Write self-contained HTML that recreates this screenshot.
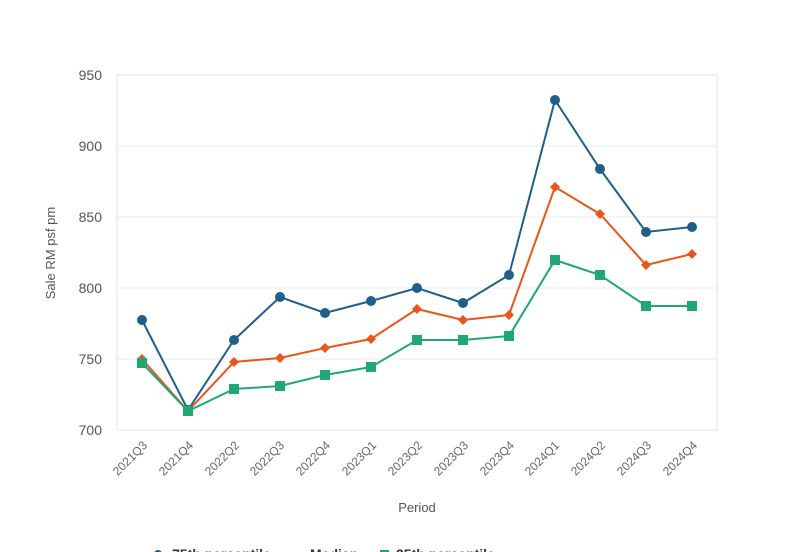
<!DOCTYPE html>
<html><head><style>body{margin:0;background:#fff}svg{display:block;font-family:"Liberation Sans",sans-serif}</style></head><body>
<svg width="800" height="552" viewBox="0 0 800 552">
<g stroke="#e6eef5" stroke-width="1">
<line x1="117" y1="75" x2="717" y2="75"/><line x1="117" y1="146" x2="717" y2="146"/><line x1="117" y1="217" x2="717" y2="217"/><line x1="117" y1="288" x2="717" y2="288"/><line x1="117" y1="359" x2="717" y2="359"/>
</g>
<rect x="117" y="75" width="600" height="355" fill="none" stroke="#dde6ee"/>
<g font-size="14" fill="#555" text-anchor="end">
<text x="102" y="80">950</text><text x="102" y="151">900</text><text x="102" y="222">850</text><text x="102" y="293">800</text><text x="102" y="364">750</text><text x="102" y="435">700</text>
</g>
<text transform="translate(55,253) rotate(-90)" font-size="13" fill="#555" text-anchor="middle">Sale RM psf pm</text>
<g font-size="12" fill="#666" text-anchor="end">
<text transform="translate(148,446) rotate(-45)">2021Q3</text>
<text transform="translate(194,446) rotate(-45)">2021Q4</text>
<text transform="translate(240,446) rotate(-45)">2022Q2</text>
<text transform="translate(285,446) rotate(-45)">2022Q3</text>
<text transform="translate(331,446) rotate(-45)">2022Q4</text>
<text transform="translate(377,446) rotate(-45)">2023Q1</text>
<text transform="translate(423,446) rotate(-45)">2023Q2</text>
<text transform="translate(469,446) rotate(-45)">2023Q3</text>
<text transform="translate(515,446) rotate(-45)">2023Q4</text>
<text transform="translate(560,446) rotate(-45)">2024Q1</text>
<text transform="translate(606,446) rotate(-45)">2024Q2</text>
<text transform="translate(652,446) rotate(-45)">2024Q3</text>
<text transform="translate(698,446) rotate(-45)">2024Q4</text>
</g>
<text x="417" y="512" font-size="13" fill="#555" text-anchor="middle">Period</text>
<polyline fill="none" stroke="#1f5f8b" stroke-width="2" points="142,320 188,410 234,340 280,297 325,313 371,301 417,288 463,303 509,275 555,100 600,169 646,232 692,227"/>
<polyline fill="none" stroke="#e8561c" stroke-width="2" points="142,359 188,411 234,362 280,358 325,348 371,339 417,309 463,320 509,315 555,187 600,214 646,265 692,254"/>
<polyline fill="none" stroke="#1fa874" stroke-width="2" points="142,363 188,411 234,389 280,386 325,375 371,367 417,340 463,340 509,336 555,260 600,275 646,306 692,306"/>
<g fill="#1f5f8b"><circle cx="142" cy="320" r="5"/><circle cx="188" cy="410" r="5"/><circle cx="234" cy="340" r="5"/><circle cx="280" cy="297" r="5"/><circle cx="325" cy="313" r="5"/><circle cx="371" cy="301" r="5"/><circle cx="417" cy="288" r="5"/><circle cx="463" cy="303" r="5"/><circle cx="509" cy="275" r="5"/><circle cx="555" cy="100" r="5"/><circle cx="600" cy="169" r="5"/><circle cx="646" cy="232" r="5"/><circle cx="692" cy="227" r="5"/></g>
<g fill="#e8561c"><path d="M142 354l5 5-5 5-5-5z"/><path d="M188 406l5 5-5 5-5-5z"/><path d="M234 357l5 5-5 5-5-5z"/><path d="M280 353l5 5-5 5-5-5z"/><path d="M325 343l5 5-5 5-5-5z"/><path d="M371 334l5 5-5 5-5-5z"/><path d="M417 304l5 5-5 5-5-5z"/><path d="M463 315l5 5-5 5-5-5z"/><path d="M509 310l5 5-5 5-5-5z"/><path d="M555 182l5 5-5 5-5-5z"/><path d="M600 209l5 5-5 5-5-5z"/><path d="M646 260l5 5-5 5-5-5z"/><path d="M692 249l5 5-5 5-5-5z"/></g>
<g fill="#1fa874"><rect x="137" y="358" width="10" height="10"/><rect x="183" y="406" width="10" height="10"/><rect x="229" y="384" width="10" height="10"/><rect x="275" y="381" width="10" height="10"/><rect x="320" y="370" width="10" height="10"/><rect x="366" y="362" width="10" height="10"/><rect x="412" y="335" width="10" height="10"/><rect x="458" y="335" width="10" height="10"/><rect x="504" y="331" width="10" height="10"/><rect x="550" y="255" width="10" height="10"/><rect x="595" y="270" width="10" height="10"/><rect x="641" y="301" width="10" height="10"/><rect x="687" y="301" width="10" height="10"/></g>
<g font-size="14" font-weight="bold" fill="#333">
<line x1="150" y1="554" x2="166" y2="554" stroke="#1f5f8b" stroke-width="2"/><circle cx="158" cy="554" r="4" fill="#1f5f8b"/><text x="172" y="559">75th percentile</text>
<line x1="290" y1="554" x2="306" y2="554" stroke="#e8561c" stroke-width="2"/><text x="310" y="559">Median</text>
<rect x="380" y="550" width="9" height="9" fill="#1fa874"/><text x="396" y="559">25th percentile</text>
</g>
</svg>
</body></html>
